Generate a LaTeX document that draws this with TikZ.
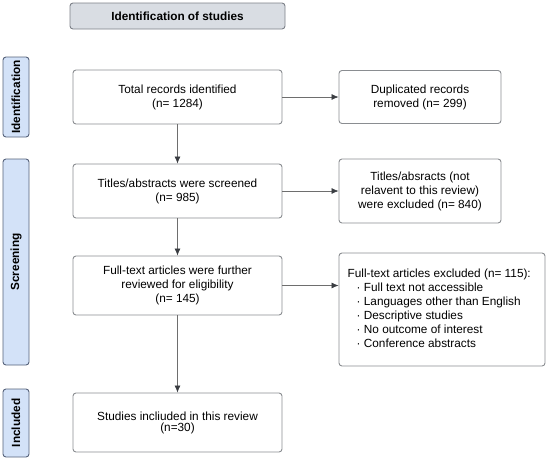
\documentclass[tikz,border=0pt]{standalone}
\usepackage{fontspec}
\setmainfont{Liberation Sans}
\usetikzlibrary{arrows.meta}
\definecolor{boxborder}{HTML}{8A8D91}
\definecolor{titlefill}{HTML}{D9DDE3}
\definecolor{titleborder}{HTML}{7C8088}
\definecolor{sidefill}{HTML}{D3E2F8}
\definecolor{sideborder}{HTML}{56627A}
\definecolor{linecol}{HTML}{6E6E6E}
\definecolor{tipcol}{HTML}{3A3D42}
\tikzset{
  every node/.style={font=\fontsize{11.8}{14}\selectfont},
  flowbox/.style={draw=boxborder, line width=0.9pt, rounded corners=3pt, fill=white, align=center, inner sep=0pt},
  titlebox/.style={draw=titleborder, line width=0.9pt, rounded corners=3pt, fill=titlefill, inner sep=0pt, font=\fontsize{11.8}{14}\selectfont\bfseries},
  sidebox/.style={draw=sideborder, line width=0.9pt, rounded corners=3pt, fill=sidefill, inner sep=0pt},
  sidetext/.style={rotate=90, font=\fontsize{11.8}{14}\selectfont\bfseries},
  flowarrow/.style={draw=linecol, line width=0.7pt, -{Latex[length=7pt,width=6pt,color=tipcol]}},
}
\begin{document}
\begin{tikzpicture}[x=1pt,y=-1pt]
\useasboundingbox (0,0) rectangle (550,459);
% title
\node[titlebox, minimum width=215pt, minimum height=26pt] (title) at (177.5,16) {Identification of studies};
% side labels
\node[sidebox, minimum width=26pt, minimum height=80pt] (sid) at (16,97) {};
\node[sidetext] (sidt) at (sid.center) {Identification};
\node[sidebox, minimum width=26pt, minimum height=206pt] (sscr) at (16,262) {};
\node[sidetext] (sscrt) at (sscr.center) {Screening};
\node[sidebox, minimum width=26pt, minimum height=68pt] (sinc) at (16,423) {};
\node[sidetext] (sinct) at (sinc.center) {Included};
% main boxes
\node[flowbox, minimum width=209pt, minimum height=54pt] (A) at (177.5,97) {Total records identified\\(n= 1284)};
\node[flowbox, minimum width=209pt, minimum height=54pt] (B) at (177.5,191) {Titles/abstracts were screened\\(n= 985)};
\node[flowbox, minimum width=209pt, minimum height=59pt] (C) at (177.5,285.5) {Full-text articles were further\\reviewed for eligibility\\(n= 145)};
\node[flowbox, minimum width=209pt, minimum height=59pt] (D) at (177.5,422.5) {Studies incliuded in this review\\[-3pt](n=30)};
% side boxes
\node[flowbox, minimum width=162pt, minimum height=53pt] (dup) at (420,97) {Duplicated records\\removed (n= 299)};
\node[flowbox, minimum width=162pt, minimum height=64pt] (ex1) at (420,191) {Titles/absracts (not\\relavent to this review)\\were excluded (n= 840)};
\node[flowbox, minimum width=206pt, minimum height=113pt] (ex2) at (442,309.5) {};
\node[anchor=north west, align=left, inner sep=0pt] (ex2t) at (347.5,268.5) {Full-text articles excluded (n= 115):\\
\hspace{9pt}· Full text not accessible\\
\hspace{9pt}· Languages other than English\\
\hspace{9pt}· Descriptive studies\\
\hspace{9pt}· No outcome of interest\\
\hspace{9pt}· Conference abstracts};
% arrows
\draw[flowarrow] (A) -- (B);
\draw[flowarrow] (B) -- (C);
\draw[flowarrow] (C) -- (D);
\draw[flowarrow] (A) -- (dup);
\draw[flowarrow] (B) -- (ex1);
\draw[flowarrow] (C.east) -- (C.east -| ex2.west);
\end{tikzpicture}
\end{document}
